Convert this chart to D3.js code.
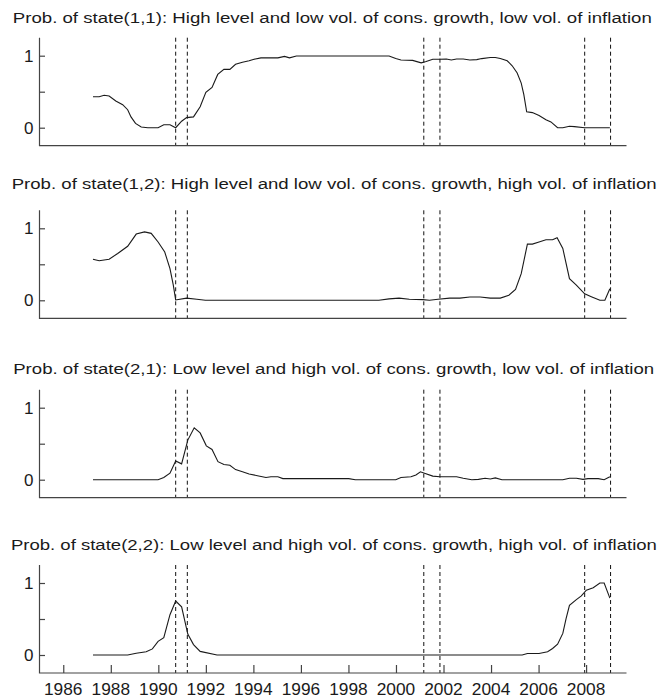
<!DOCTYPE html>
<html>
<head>
  <meta charset="UTF-8">
  <title>Regime probabilities</title>
  <style>
    body {
      margin: 0;
      background: #fff;
      font-family: "Liberation Sans", Arial, sans-serif;
    }
    .series {
      fill: none;
      stroke: #1a1a1a;
      stroke-width: 1.1px;
    }
    .rec {
      stroke: #111;
      stroke-width: 1px;
      stroke-dasharray: 4,3;
    }
    .frame {
      stroke: #444;
      stroke-width: 1.2px;
      fill: none;
    }
    .title { font-size: 15.5px; fill: #1a1a1a; }
    .ylab { font-size: 17px; fill: #1a1a1a; }
    .xlab { font-size: 16.5px; fill: #1a1a1a; }
  </style>
</head>
<body>

<svg id="chart"></svg>

<script src="https://d3js.org/d3.v7.min.js"></script>
<script>
const width = 672;
const height = 699;

// panel titles
const titles = [
  "Prob. of state(1,1): High level and low vol. of cons. growth, low vol. of inflation",
  "Prob. of state(1,2): High level and low vol. of cons. growth, high vol. of inflation",
  "Prob. of state(2,1): Low level and high vol. of cons. growth, low vol. of inflation",
  "Prob. of state(2,2): Low level and high vol. of cons. growth, high vol. of inflation"
];

// recession dates (dashed lines)
const recessions = [1990.73, 1991.22, 2001.17, 2001.85, 2007.94, 2009.03];

const yearTicks = [1986, 1988, 1990, 1992, 1994, 1996, 1998, 2000, 2002, 2004, 2006, 2008];
const probTicks = [0, 0.5, 1];
const probLabels = { 0: "0", 1: "1" };

// [year, probability]
const state11 = [
  [1987.25, 0.43], [1987.51, 0.43], [1987.72, 0.45], [1987.93, 0.44], [1988.21, 0.37],
  [1988.50, 0.32], [1988.71, 0.25], [1988.85, 0.15], [1989.04, 0.06], [1989.28, 0.01],
  [1989.56, 0.0], [1989.99, 0.0], [1990.23, 0.04], [1990.49, 0.04], [1990.73, 0.0],
  [1990.98, 0.09], [1991.19, 0.14], [1991.48, 0.15], [1991.76, 0.29], [1992.00, 0.49],
  [1992.26, 0.56], [1992.50, 0.74], [1992.76, 0.81], [1993.01, 0.81], [1993.25, 0.88],
  [1993.54, 0.91], [1993.82, 0.93], [1994.03, 0.95], [1994.32, 0.97], [1995.03, 0.97],
  [1995.31, 0.99], [1995.52, 0.97], [1995.81, 0.995], [1999.71, 0.995], [1999.99, 0.96],
  [2000.21, 0.94], [2000.70, 0.935], [2001.06, 0.90], [2001.27, 0.92], [2001.55, 0.95],
  [2001.84, 0.95], [2002.12, 0.955], [2002.33, 0.94], [2002.55, 0.955], [2002.83, 0.955],
  [2003.11, 0.94], [2003.40, 0.945], [2003.61, 0.96], [2003.97, 0.975], [2004.18, 0.975],
  [2004.39, 0.96], [2004.68, 0.93], [2004.89, 0.86], [2005.10, 0.76], [2005.27, 0.62],
  [2005.38, 0.46], [2005.50, 0.22], [2005.74, 0.21], [2006.02, 0.17], [2006.31, 0.11],
  [2006.52, 0.08], [2006.80, 0.0], [2007.02, 0.0], [2007.30, 0.02], [2007.51, 0.015],
  [2007.94, 0.0], [2009.00, 0.0]
];

const state12 = [
  [1987.25, 0.57], [1987.51, 0.55], [1987.93, 0.57], [1988.29, 0.65], [1988.71, 0.75],
  [1989.07, 0.92], [1989.42, 0.95], [1989.70, 0.93], [1989.99, 0.81], [1990.27, 0.67],
  [1990.49, 0.44], [1990.63, 0.21], [1990.73, 0.005], [1991.19, 0.03], [1991.62, 0.015],
  [1991.98, 0.0], [1999.28, 0.0], [1999.71, 0.02], [2000.13, 0.03], [2000.56, 0.015],
  [2001.13, 0.01], [2001.41, 0.0], [2001.77, 0.015], [2002.26, 0.03], [2002.69, 0.03],
  [2003.11, 0.045], [2003.54, 0.045], [2003.97, 0.03], [2004.39, 0.03], [2004.75, 0.07],
  [2005.03, 0.15], [2005.27, 0.37], [2005.53, 0.78], [2005.74, 0.78], [2006.02, 0.81],
  [2006.31, 0.84], [2006.59, 0.84], [2006.78, 0.87], [2007.02, 0.72], [2007.30, 0.30],
  [2007.59, 0.21], [2007.94, 0.09], [2008.22, 0.05], [2008.58, 0.0], [2008.79, 0.0],
  [2009.00, 0.16]
];

const state21 = [
  [1987.25, 0.0], [1989.99, 0.0], [1990.23, 0.03], [1990.49, 0.09], [1990.73, 0.26],
  [1990.98, 0.22], [1991.24, 0.55], [1991.51, 0.72], [1991.76, 0.65], [1992.02, 0.47],
  [1992.26, 0.42], [1992.51, 0.25], [1992.76, 0.21], [1993.01, 0.20], [1993.25, 0.14],
  [1993.54, 0.11], [1993.82, 0.08], [1994.17, 0.055], [1994.53, 0.03], [1994.74, 0.04],
  [1995.03, 0.04], [1995.24, 0.015], [1998.01, 0.015], [1998.29, 0.0], [1999.99, 0.0],
  [2000.21, 0.03], [2000.63, 0.04], [2000.84, 0.065], [2001.03, 0.11], [2001.20, 0.09],
  [2001.55, 0.05], [2001.84, 0.04], [2002.55, 0.04], [2002.83, 0.02], [2003.19, 0.0],
  [2003.47, 0.005], [2003.75, 0.02], [2003.97, 0.01], [2004.18, 0.025], [2004.46, 0.0],
  [2007.02, 0.0], [2007.30, 0.02], [2007.59, 0.02], [2007.87, 0.005], [2008.08, 0.015],
  [2008.51, 0.015], [2008.76, 0.0], [2009.00, 0.04]
];

const state22 = [
  [1987.25, 0.0], [1988.71, 0.0], [1989.07, 0.025], [1989.49, 0.045], [1989.75, 0.085],
  [1989.99, 0.19], [1990.23, 0.24], [1990.49, 0.56], [1990.73, 0.75], [1990.98, 0.67],
  [1991.24, 0.29], [1991.48, 0.145], [1991.76, 0.05], [1992.47, 0.0], [2005.31, 0.0],
  [2005.53, 0.02], [2006.02, 0.02], [2006.38, 0.045], [2006.59, 0.09], [2006.80, 0.15],
  [2007.02, 0.30], [2007.16, 0.51], [2007.30, 0.69], [2007.59, 0.77], [2007.80, 0.82],
  [2008.01, 0.90], [2008.30, 0.935], [2008.58, 1.0], [2008.76, 1.0], [2009.00, 0.79]
];

const series = [state11, state12, state21, state22];

// layout of the four panels
const plotLeft = 39.5, plotRight = 626.5;
const panelZero = [127.7, 300.3, 479.7, 655];
const titleBase = [23.3, 189, 374.3, 550];
const titleX = [332.3, 334.2, 333.7, 333.9];
const titleWidth = [639, 645, 641, 646];

const x = d3.scaleLinear().domain([1985, 2009.7]).range([plotLeft, plotRight]);

const svg = d3.select("#chart")
  .attr("width", width)
  .attr("height", height);

series.forEach((data, i) => {
  const y = d3.scaleLinear()
    .domain([-0.25, 1.25])
    .range([panelZero[i] + 18, panelZero[i] - 90]);

  const g = svg.append("g");

  g.append("text")
    .attr("class", "title")
    .attr("x", titleX[i])
    .attr("y", titleBase[i])
    .attr("text-anchor", "middle")
    .attr("textLength", titleWidth[i])
    .attr("lengthAdjust", "spacingAndGlyphs")
    .text(titles[i]);

  // recession lines
  g.selectAll("line.rec")
    .data(recessions)
    .enter().append("line")
    .attr("class", "rec")
    .attr("x1", d => x(d)).attr("x2", d => x(d))
    .attr("y1", y(1.25)).attr("y2", y(-0.25));

  // series
  const line = d3.line()
    .x(d => x(d[0]))
    .y(d => y(d[1]));

  g.append("path")
    .datum(data)
    .attr("class", "series")
    .attr("d", line);

  // y axis: inward ticks, labels only on 0 and 1
  const yAxis = d3.axisRight(y)
    .tickValues(probTicks)
    .tickSize(5.5)
    .tickFormat("");
  const ya = g.append("g")
    .attr("transform", `translate(${plotLeft},0)`)
    .call(yAxis);
  ya.select(".domain").remove();
  ya.selectAll(".tick line").attr("stroke", "#444").attr("stroke-width", 1.2);

  g.selectAll("text.ylab")
    .data(probTicks.filter(d => probLabels[d] !== undefined))
    .enter().append("text")
    .attr("class", "ylab")
    .attr("x", plotLeft - 6)
    .attr("y", d => y(d))
    .attr("dy", "0.36em")
    .attr("text-anchor", "end")
    .text(d => probLabels[d]);

  // left and bottom axis lines
  g.append("path")
    .attr("class", "frame")
    .attr("d", `M${plotLeft},${y(1.25)}V${y(-0.25)}H${plotRight}`);

  if (i === series.length - 1) {
    const xAxis = d3.axisTop(x)
      .tickValues(yearTicks)
      .tickSize(8)
      .tickFormat("");
    const xa = g.append("g")
      .attr("transform", `translate(0,${y(-0.25)})`)
      .call(xAxis);
    xa.select(".domain").remove();
    xa.selectAll(".tick line").attr("stroke", "#444").attr("stroke-width", 1.2);

    g.selectAll("text.xlab")
      .data(yearTicks)
      .enter().append("text")
      .attr("class", "xlab")
      .attr("x", d => x(d))
      .attr("y", 694.5)
      .attr("text-anchor", "middle")
      .attr("textLength", 38.5)
      .attr("lengthAdjust", "spacingAndGlyphs")
      .text(d => d);
  }
});
</script>

</body>
</html>
